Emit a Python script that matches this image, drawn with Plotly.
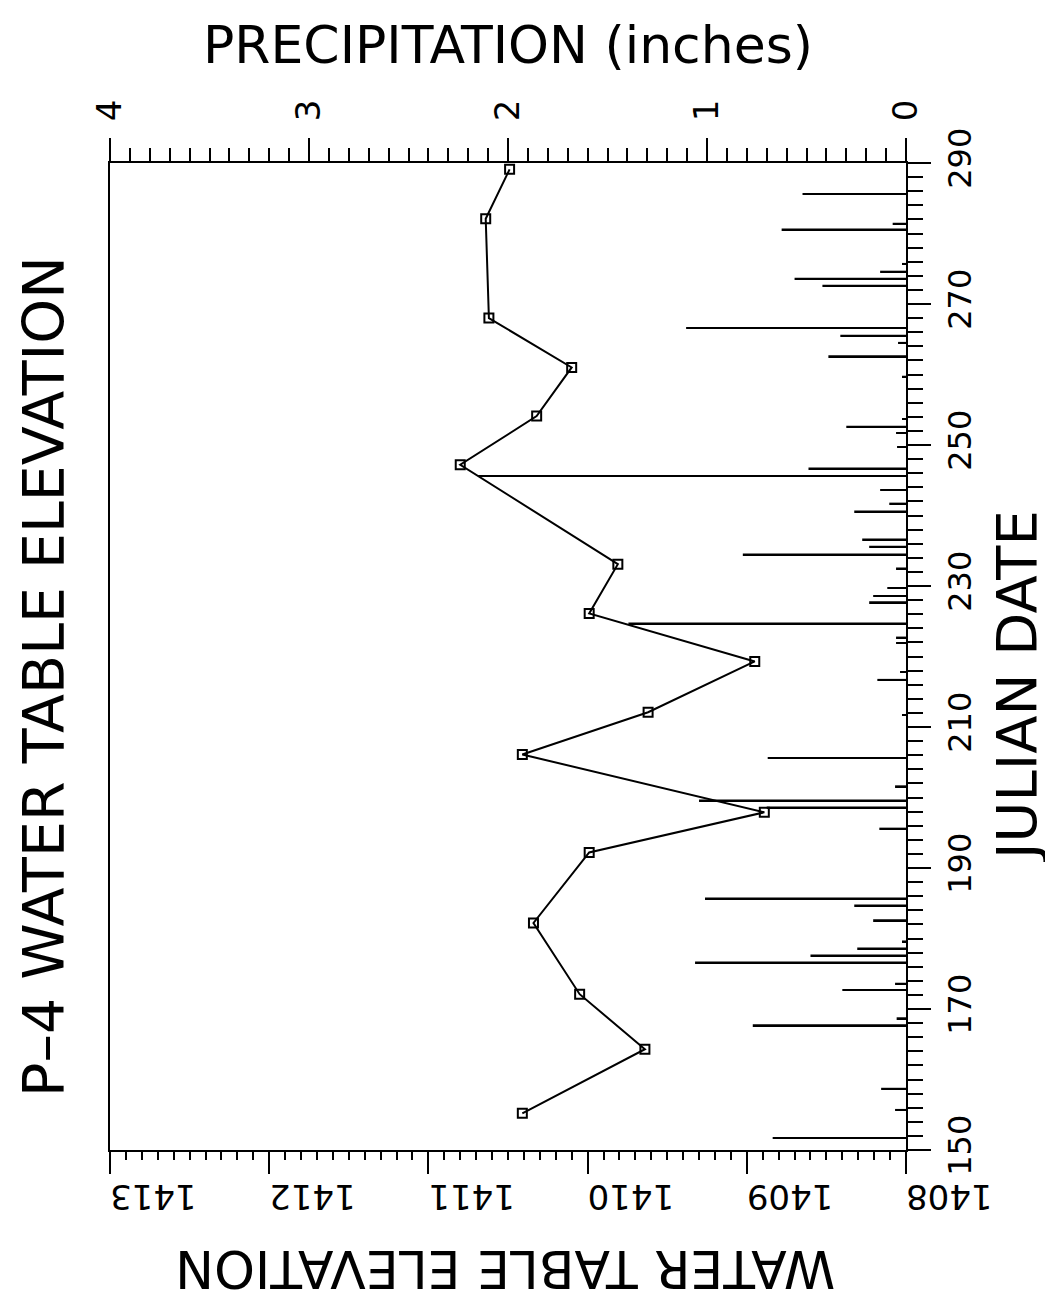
import plotly.graph_objects as go

# Water table elevation measurements (Julian date, elevation ft)
wt_day = [155.2, 164.3, 172.1, 182.2, 192.2, 197.9, 206.1, 212.1, 219.3, 226.1,
          233.1, 247.2, 254.1, 261.0, 268.0, 282.1, 289.1]
wt_elev = [1410.41, 1409.64, 1410.05, 1410.34, 1409.99, 1408.89, 1410.41, 1409.62,
           1408.95, 1409.99, 1409.81, 1410.80, 1410.32, 1410.10, 1410.62, 1410.64,
           1410.49]

# Daily precipitation (Julian date, inches)
pr_day = [151.7, 155.7, 158.7, 167.7, 168.7, 172.7, 173.6, 176.6, 177.6, 178.6,
          179.6, 182.6, 184.7, 185.7, 195.6, 198.6, 199.6, 201.6, 205.6, 211.7,
          216.7, 217.8, 221.9, 222.7, 224.7, 227.7, 228.6, 229.7, 232.5, 234.5,
          235.6, 236.6, 240.6, 241.7, 243.6, 245.6, 246.7, 249.7, 251.7, 252.6,
          253.7, 259.7, 262.6, 264.5, 265.5, 266.6, 272.6, 273.6, 274.6, 275.7,
          280.6, 281.4, 285.6]
pr_in = [0.67, 0.055, 0.125, 0.77, 0.047, 0.32, 0.055, 1.06, 0.48, 0.245,
         0.02, 0.165, 0.26, 1.01, 0.134, 0.70, 1.04, 0.055, 0.695, 0.02,
         0.144, 0.03, 0.05, 0.05, 1.395, 0.185, 0.165, 0.094, 0.05, 0.82,
         0.185, 0.22, 0.26, 0.084, 0.13, 2.15, 0.49, 0.045, 0.05, 0.30,
         0.02, 0.02, 0.39, 0.04, 0.33, 1.105, 0.42, 0.56, 0.13, 0.02,
         0.625, 0.067, 0.52]

day_ticks = [150, 170, 190, 210, 230, 250, 270, 290]
elev_ticks = [1408, 1409, 1410, 1411, 1412, 1413]
pr_ticks = [0, 1, 2, 3, 4]

FONT = "DejaVu Sans, Liberation Sans, sans-serif"

fig = go.Figure()

fig.add_trace(go.Bar(
    x=pr_in, y=pr_day, orientation="h", width=0.25,
    marker=dict(color="black", line=dict(width=0)),
    xaxis="x2", yaxis="y", showlegend=False,
))

fig.add_trace(go.Scatter(
    x=wt_elev, y=wt_day, mode="lines+markers",
    line=dict(color="black", width=2),
    marker=dict(symbol="square-open", size=9, color="black",
                line=dict(width=2, color="black")),
    xaxis="x", yaxis="y", showlegend=False,
))

fig.update_layout(
    width=1045, height=1302,
    margin=dict(l=102, r=147, t=155, b=160, autoexpand=False),
    paper_bgcolor="white", plot_bgcolor="white",
    font=dict(family=FONT, color="black"),
    xaxis=dict(
        range=[1413, 1408], tickvals=elev_ticks, tickangle=180,
        tickfont=dict(size=34), ticks="outside", ticklen=22, tickwidth=2,
        tickcolor="black", showline=True, linecolor="black", linewidth=2,
        showgrid=False, zeroline=False, ticklabelstandoff=4, automargin=False,
        minor=dict(dtick=0.1, tick0=1408, ticks="outside", ticklen=8,
                   tickwidth=2, tickcolor="black", showgrid=False),
    ),
    xaxis2=dict(
        range=[4, 0], overlaying="x", side="top", tickvals=pr_ticks,
        tickangle=-90, tickfont=dict(size=34), ticks="outside", ticklen=23,
        tickwidth=2, tickcolor="black", showline=True, linecolor="black",
        linewidth=2, showgrid=False, zeroline=False, ticklabelstandoff=10,
        automargin=False,
        minor=dict(dtick=0.1, tick0=0, ticks="outside", ticklen=13,
                   tickwidth=2, tickcolor="black", showgrid=False),
    ),
    yaxis=dict(
        range=[150, 290], side="right", tickvals=day_ticks, tickangle=-90,
        tickfont=dict(size=32), ticks="outside", ticklen=23, tickwidth=2,
        tickcolor="black", showline=True, mirror=True, linecolor="black",
        linewidth=2, showgrid=False, zeroline=False, ticklabelstandoff=2,
        automargin=False,
        minor=dict(dtick=2, tick0=150, ticks="outside", ticklen=15,
                   tickwidth=2, tickcolor="black", showgrid=False),
    ),
    annotations=[
        dict(text="P–4 WATER TABLE ELEVATION", xref="paper", yref="paper",
             x=-0.082, y=0.48, textangle=-90, showarrow=False,
             font=dict(size=57), xanchor="center", yanchor="middle"),
        dict(text="JULIAN DATE", xref="paper", yref="paper",
             x=1.138, y=0.47, textangle=-90, showarrow=False,
             font=dict(size=56), xanchor="center", yanchor="middle"),
        dict(text="WATER TABLE ELEVATION", xref="paper", yref="paper",
             x=0.497, y=-0.12, textangle=180, showarrow=False,
             font=dict(size=52), xanchor="center", yanchor="middle"),
        dict(text="PRECIPITATION (inches)", xref="paper", yref="paper",
             x=0.50, y=1.12, showarrow=False,
             font=dict(size=52), xanchor="center", yanchor="middle"),
    ],
)

fig.write_html("out.html")
